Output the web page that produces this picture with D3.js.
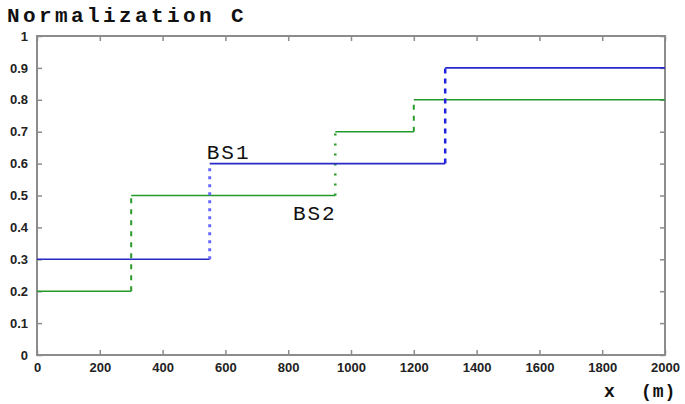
<!DOCTYPE html>
<html>
<head>
<meta charset="utf-8">
<script src="https://cdn.jsdelivr.net/npm/d3@7"></script>
<style>
  body { margin: 0; background: #fff; }
  svg { display: block; }
</style>
</head>
<body>
<svg id="chart" width="685" height="404"></svg>
<script>
// step breakpoints (x in m) and levels for each base station
const bs1Breaks = [0, 550, 1300, 2000];
const bs1Levels = [0.3, 0.6, 0.9];
const bs2Breaks = [0, 300, 950, 1200, 2000];
const bs2Levels = [0.2, 0.5, 0.7, 0.8];
const xTicks = [0, 200, 400, 600, 800, 1000, 1200, 1400, 1600, 1800, 2000];
const yTicks = [0, 0.1, 0.2, 0.3, 0.4, 0.5, 0.6, 0.7, 0.8, 0.9, 1];

// look of the vertical jumps
const bs1Jumps = [
	{ color: "#6a6aff", dash: "3,5", width: 3 },
	{ color: "#2020e0", dash: "5,5", width: 2.5 },
];
const bs2Jumps = [
	{ color: "#2a9a2a", dash: "5,6", width: 2 },
	{ color: "#2a9a2a", dash: "2,8", width: 2.5 },
	{ color: "#2a9a2a", dash: "5,6", width: 2 },
];

var svg = d3.select("#chart");
var margin = { top: 36, left: 37, right: 20, bottom: 50 };
var width = 665 - margin.left;
var height = 355 - margin.top;

var x = d3.scaleLinear().domain([0, 2000]).range([0, width]);
var y = d3.scaleLinear().domain([0, 1]).range([height, 0]);

var g = svg.append("g").attr("transform", "translate(" + margin.left + "," + margin.top + ")");

// title
svg.append("text")
	.attr("x", 7)
	.attr("y", 22)
	.attr("font-family", "Liberation Mono, DejaVu Sans Mono, monospace")
	.attr("font-weight", "bold")
	.attr("font-size", "21px")
	.attr("letter-spacing", "3.4px")
	.attr("fill", "#111")
	.text("Normalization C");

var axisColor = "#8c8c8c";

// ticks: bottom + top, left + right, all inward
function tickStyle(sel) {
	sel.select(".domain").remove();
	sel.selectAll(".tick line").attr("stroke", axisColor).attr("stroke-width", 1.5);
}

g.append("g")
	.attr("transform", "translate(0," + height + ")")
	.call(d3.axisBottom(x).tickValues(xTicks).tickSize(-5).tickPadding(8).tickFormat(d3.format("d")))
	.call(tickStyle)
	.selectAll(".tick text")
	.attr("font-family", "Liberation Sans, Arial, sans-serif")
	.attr("font-weight", "bold")
	.attr("font-size", "13px")
	.attr("fill", "#222");

g.append("g")
	.call(d3.axisTop(x).tickValues(xTicks).tickSize(-5).tickFormat(""))
	.call(tickStyle);

g.append("g")
	.call(d3.axisLeft(y).tickValues(yTicks).tickSize(-5).tickPadding(9).tickFormat(d3.format("")))
	.call(tickStyle)
	.selectAll(".tick text")
	.attr("font-family", "Liberation Sans, Arial, sans-serif")
	.attr("font-weight", "bold")
	.attr("font-size", "13px")
	.attr("fill", "#222");

g.append("g")
	.attr("transform", "translate(" + width + ",0)")
	.call(d3.axisRight(y).tickValues(yTicks).tickSize(-5).tickFormat(""))
	.call(tickStyle);

// frame
g.append("rect")
	.attr("x", 0).attr("y", 0)
	.attr("width", width).attr("height", height)
	.attr("fill", "none")
	.attr("stroke", axisColor)
	.attr("stroke-width", 2);

// steps: horizontal runs solid, jumps styled
function drawSteps(breaks, levels, color, jumps) {
	var runs = levels.map(function (v, i) {
		return { x0: breaks[i], x1: breaks[i + 1], v: v };
	});
	g.selectAll(null)
		.data(runs)
		.enter()
		.append("line")
		.attr("x1", function (d) { return x(d.x0); })
		.attr("x2", function (d) { return x(d.x1); })
		.attr("y1", function (d) { return y(d.v); })
		.attr("y2", function (d) { return y(d.v); })
		.attr("stroke", color)
		.attr("stroke-width", 1.6);

	var steps = levels.slice(1).map(function (v, i) {
		return { x: breaks[i + 1], from: levels[i], to: v, st: jumps[i] };
	});
	g.selectAll(null)
		.data(steps)
		.enter()
		.append("line")
		.attr("x1", function (d) { return x(d.x); })
		.attr("x2", function (d) { return x(d.x); })
		.attr("y1", function (d) { return y(d.from); })
		.attr("y2", function (d) { return y(d.to); })
		.attr("stroke", function (d) { return d.st.color; })
		.attr("stroke-width", function (d) { return d.st.width; })
		.attr("stroke-dasharray", function (d) { return d.st.dash; });
}

drawSteps(bs2Breaks, bs2Levels, "#22992a", bs2Jumps);
drawSteps(bs1Breaks, bs1Levels, "#2828c8", bs1Jumps);

// labels
var labelFont = "Liberation Mono, DejaVu Sans Mono, monospace";
g.append("text")
	.attr("x", x(550) - 3)
	.attr("y", y(0.6) - 5)
	.attr("font-family", labelFont)
	.attr("font-size", "21px")
	.attr("letter-spacing", "2px")
	.attr("fill", "#111")
	.text("BS1");
g.append("text")
	.attr("x", x(815))
	.attr("y", y(0.5) + 24)
	.attr("font-family", labelFont)
	.attr("font-size", "21px")
	.attr("letter-spacing", "2px")
	.attr("fill", "#111")
	.text("BS2");

// x axis unit
var unitFont = "Liberation Mono, DejaVu Sans Mono, monospace";
svg.append("text")
	.attr("x", 604)
	.attr("y", 397)
	.attr("font-family", unitFont)
	.attr("font-weight", "bold")
	.attr("font-size", "18px")
	.attr("fill", "#111")
	.text("x");
svg.append("text")
	.attr("x", 641)
	.attr("y", 397)
	.attr("font-family", unitFont)
	.attr("font-weight", "bold")
	.attr("font-size", "18px")
	.attr("letter-spacing", "1px")
	.attr("fill", "#111")
	.text("(m)");
</script>
</body>
</html>
